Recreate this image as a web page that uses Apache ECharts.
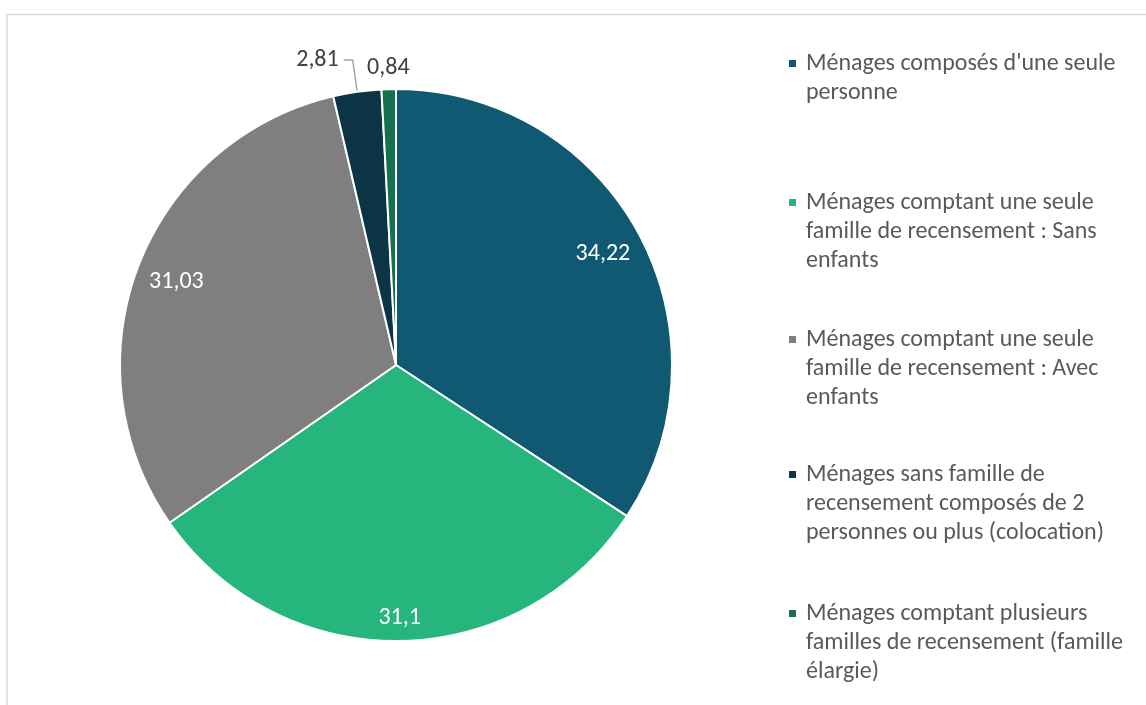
<!DOCTYPE html>
<html><head><meta charset="utf-8">
<script src="https://cdn.jsdelivr.net/npm/echarts@6/dist/echarts.min.js"></script>
<style>html,body{margin:0;padding:0;background:#fff;} #c{width:1146px;height:705px;}</style>
</head><body><div id="c"></div>
<script>
const categories = [
  "Ménages composés d'une seule\npersonne",
  "Ménages comptant une seule\nfamille de recensement : Sans\nenfants",
  "Ménages comptant une seule\nfamille de recensement : Avec\nenfants",
  "Ménages sans famille de\nrecensement composés de 2\npersonnes ou plus (colocation)",
  "Ménages comptant plusieurs\nfamilles de recensement (famille\nélargie)"
];
const values = [34.22, 31.1, 31.03, 2.81, 0.84];

const palette = ['#0F5973', '#26B57D', '#7F7F7F', '#0C3447', '#167050'];
const FONT = 'Carlito';
const FS = 24;
const LH = 29;
const CX = 396, CY = 365, R = 276;
const INSIDE_MARGIN = 11;
const firstLineCenters = [63.5, 202.5, 339.5, 474.5, 613.5];

const fmt = v => String(v).replace('.', ',');

const legends = categories.map((name, i) => {
  const n = name.split('\n').length;
  return {
    show: true,
    data: [name],
    orient: 'vertical',
    left: 787,
    top: firstLineCenters[i] - (2 * n - 1) * LH / 2,
    padding: 0,
    icon: 'rect',
    itemWidth: 9,
    itemHeight: 9,
    selectedMode: false,
    // leading blank lines keep the first text line level with the marker
    formatter: nm => '\n'.repeat(nm.split('\n').length - 1) + nm,
    textStyle: {
      fontFamily: FONT, fontSize: FS, color: '#595959', lineHeight: LH,
      padding: [0, 0, 0, 4]
    }
  };
});

const outsideLabelOpts = {
  3: {
    label: { position: 'outside', color: '#404040', distanceToLabelLine: 5 },
    labelLine: { show: true, length: 32, length2: 9, lineStyle: { color: '#A6A6A6', width: 1.5 } }
  },
  4: {
    label: { position: 'outside', color: '#404040', distanceToLabelLine: -21.4 },
    labelLine: { show: false, length: 21, length2: 0 }
  }
};

const pieData = values.map((v, i) => Object.assign({ name: categories[i], value: v }, outsideLabelOpts[i] || {}));

// "inside end" placement: push each inside label out along its slice's mid-angle
// until the label box's outer corner sits INSIDE_MARGIN px inside the rim.
function insideEnd(params) {
  if (outsideLabelOpts[params.dataIndex]) return {};
  const r = params.labelRect;
  const mx = r.x + r.width / 2, my = r.y + r.height / 2;
  let ux = mx - CX, uy = my - CY;
  const L = Math.hypot(ux, uy) || 1;
  ux /= L; uy /= L;
  const ox = Math.sign(ux) * r.width / 2, oy = Math.sign(uy) * r.height / 2;
  const b = ux * ox + uy * oy;
  const c = ox * ox + oy * oy - Math.pow(R - INSIDE_MARGIN, 2);
  const t = -b + Math.sqrt(b * b - c);
  return { x: CX + t * ux, y: CY + t * uy + 1, align: 'center', verticalAlign: 'middle' };
}

const chart = echarts.init(document.getElementById('c'), null, { renderer: 'canvas' });
chart.setOption({
  animation: false,
  backgroundColor: '#fff',
  color: palette,
  legend: legends,
  graphic: [{
    type: 'rect', silent: true, z: -10,
    shape: { x: 7, y: 14.5, width: 1200, height: 800 },
    style: { fill: 'none', stroke: '#D9D9D9', lineWidth: 1.5 }
  }],
  series: [
    {
      type: 'pie',
      center: [CX, CY], radius: R,
      startAngle: 90, clockwise: true,
      avoidLabelOverlap: false,
      itemStyle: { borderColor: '#fff', borderWidth: 2 },
      emphasis: { disabled: true },
      label: {
        show: true, position: 'inside', color: '#fff',
        fontFamily: FONT, fontSize: FS,
        formatter: p => fmt(p.value)
      },
      labelLayout: insideEnd,
      data: pieData
    }
  ]
});
</script>
</body></html>
